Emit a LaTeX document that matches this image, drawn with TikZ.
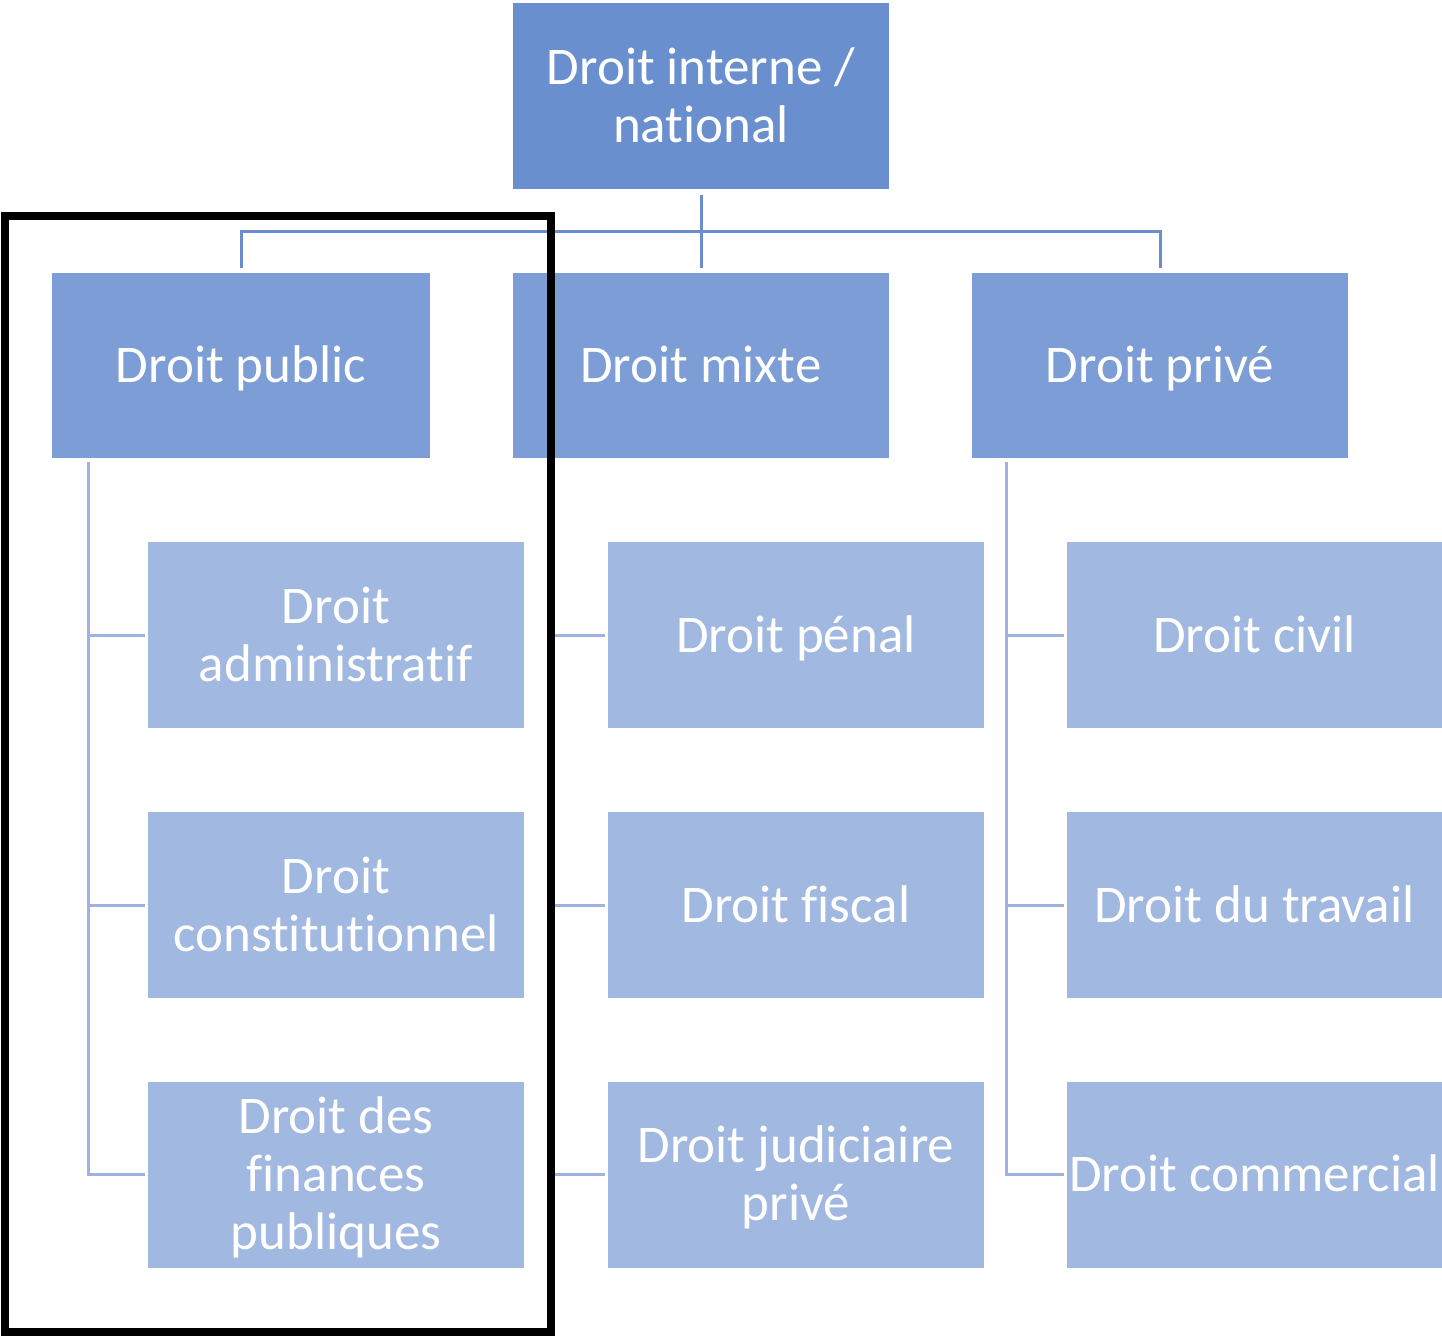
\documentclass[tikz,border=0pt]{standalone}
\usepackage{fontspec}
\setmainfont{Carlito}[RawFeature={-liga;-clig;-dlig;-calt}]
\usetikzlibrary{calc}
\definecolor{topfill}{HTML}{6A8FCF}
\definecolor{midfill}{HTML}{7C9DD5}
\definecolor{leaffill}{HTML}{A1B8E0}
\definecolor{topline}{HTML}{6B8DD0}
\definecolor{leafline}{HTML}{A0B2DF}
% invisible strut that keeps every line centred on its capitals
\newcommand{\ls}{\rule[-0.218em]{0pt}{1.08em}}
\begin{document}
\begin{tikzpicture}[x=1pt,y=-1pt,
  box/.style={rectangle,inner sep=0pt,text=white,align=center,
    minimum width=376pt,minimum height=186pt,
    font=\fontsize{53}{58}\selectfont},
  rootbox/.style={box,fill=topfill},
  branchbox/.style={box,fill=midfill,minimum height=185pt},
  leafbox/.style={box,fill=leaffill},
  rootconn/.style={draw=topline,line width=3pt},
  leafconn/.style={draw=leafline,line width=3pt},
  frame/.style={draw=black,line width=8pt}]
\useasboundingbox (0,0) rectangle (1442,1336);

% root
\node[rootbox] (root) at (701,96) {\ls Droit interne /\\\ls national};

% branches
\node[branchbox,minimum width=378pt] (pub) at (241,365.5) {\ls Droit public};
\node[branchbox] (mix) at (701,365.5) {\ls Droit mixte};
\node[branchbox] (pri) at (1160,365.5) {\ls Droit privé};

% leaves
\node[leafbox] (adm) at (336,635) {\ls Droit\\\ls administratif};
\node[leafbox] (con) at (336,905) {\ls Droit\\\ls constitutionnel};
\node[leafbox] (fin) at (336,1174.5) {\ls Droit des\\\ls finances\\\ls publiques};

\node[leafbox] (pen) at (796,635) {\ls Droit pénal};
\node[leafbox] (fis) at (796,905) {\ls Droit fiscal};
\node[leafbox] (jud) at (796,1174.5) {\ls Droit judiciaire\\\ls privé};

\node[leafbox,minimum width=375pt] (civ) at (1254.5,635) {\ls Droit civil};
\node[leafbox,minimum width=375pt] (tra) at (1254.5,905) {\ls Droit du travail};
\node[leafbox,minimum width=375pt] (com) at (1254.5,1174.5) {\ls Droit commercial};

% root to branches
\draw[rootconn] ([yshift=-6pt]root.south) -- ([yshift=5pt]mix.north);
\draw[rootconn] ([yshift=5pt]pub.north) -- ++(0,-36) -| ([yshift=5pt]pri.north);

% branches to leaves
\coordinate (pubv) at ($(pub.south west)+(37,4)$);
\coordinate (mixv) at ($(mix.south west)+(37,4)$);
\coordinate (priv) at ($(pri.south west)+(35,4)$);
\foreach \b/\l in {pubv/adm,pubv/con,pubv/fin,mixv/pen,mixv/fis,mixv/jud,priv/civ,priv/tra,priv/com}
  \draw[leafconn] (\b) |- ([xshift=-3pt]\l.west);

% frame around the public law column
\draw[frame] (5,216) rectangle (551,1332);
\end{tikzpicture}
\end{document}
